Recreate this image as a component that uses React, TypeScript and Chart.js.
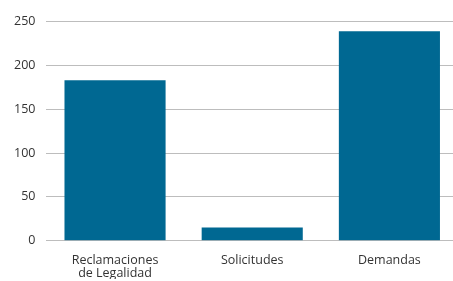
import React, { useEffect, useRef } from "react";
import { Chart, registerables } from "chart.js";

Chart.register(...registerables);

const categories: (string | string[])[] = [["Reclamaciones", "de Legalidad"], "Solicitudes", "Demandas"];
const values = [183, 15, 239];
const yTicks = { min: 0, max: 250, step: 50 };

export default function App() {
  const ref = useRef<HTMLCanvasElement>(null);
  useEffect(() => {
    document.body.style.margin = "0";
    const chart = new Chart(ref.current!, {
      type: "bar",
      data: {
        labels: categories,
        datasets: [
          {
            data: values,
            backgroundColor: "#006892",
            barPercentage: 0.737,
            categoryPercentage: 1,
          },
        ],
      },
      options: {
        animation: false,
        responsive: false,
        maintainAspectRatio: false,
        layout: { padding: { top: 16, right: 0, left: 3, bottom: -6 } },
        plugins: { legend: { display: false }, tooltip: { enabled: false } },
        scales: {
          x: {
            grid: { display: false },
            border: { display: false },
            ticks: {
              color: "#333",
              font: { family: "'Open Sans', sans-serif", size: 12.5, lineHeight: 1.05 },
              maxRotation: 0,
              padding: 5,
            },
          },
          y: {
            min: yTicks.min,
            max: yTicks.max,
            border: { display: false },
            grid: { color: "#bdbdbd", lineWidth: 1, drawTicks: false },
            ticks: {
              stepSize: yTicks.step,
              color: "#333",
              font: { family: "'Open Sans', sans-serif", size: 12.5 },
              padding: 11,
            },
          },
        },
      },
    });
    return () => chart.destroy();
  }, []);
  return (
    <div style={{ position: "absolute", left: 0, top: 0, width: 453, height: 281, overflow: "hidden" }}>
      <canvas ref={ref} width={458} height={276} style={{ position: "absolute", left: 0, top: 3 }} />
    </div>
  );
}
